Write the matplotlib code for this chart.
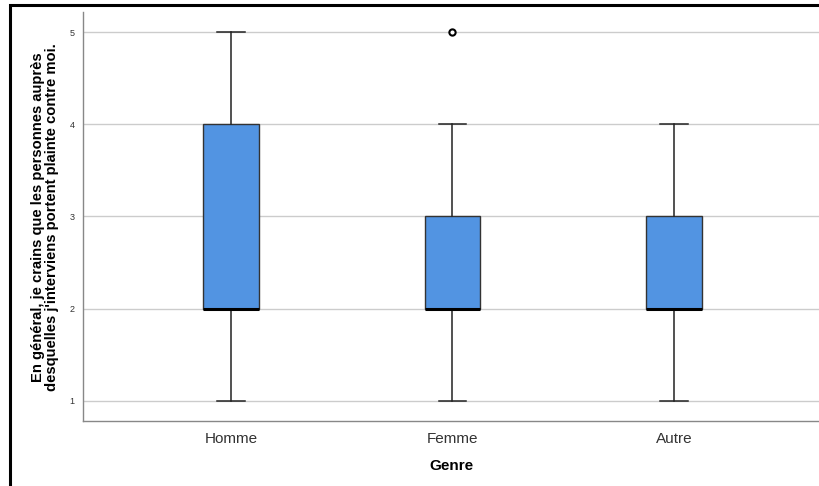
import matplotlib
matplotlib.use('Agg')
import matplotlib.pyplot as plt
from matplotlib.lines import Line2D

# values
groups = ['Homme', 'Femme', 'Autre']
whisker_low = [1, 1, 1]
q1 = [2, 2, 2]
medians = [2, 2, 2]
q3 = [4, 3, 3]
whisker_high = [5, 4, 4]
outliers = [[], [5], []]
y_ticks = [1, 2, 3, 4, 5]

BOX_COLOR = '#5294e2'

plt.rcParams['font.family'] = ['Liberation Sans', 'DejaVu Sans']

fig = plt.figure(figsize=(8.2, 4.86), dpi=100)
ax = fig.add_axes([83 / 820, 1 - 421 / 486, 1 - 83 / 820, (421 - 12) / 486])

stats = []
for i, name in enumerate(groups):
    stats.append({
        'label': name,
        'whislo': whisker_low[i],
        'q1': q1[i],
        'med': medians[i],
        'q3': q3[i],
        'whishi': whisker_high[i],
        'fliers': outliers[i],
    })

ax.bxp(stats, positions=range(len(groups)), widths=0.25, patch_artist=True,
       showfliers=True, zorder=3,
       boxprops=dict(facecolor=BOX_COLOR, edgecolor='#333333', linewidth=1.0),
       medianprops=dict(color='black', linewidth=2.2),
       whiskerprops=dict(color='#222222', linewidth=1.1),
       capprops=dict(color='#222222', linewidth=1.1),
       capwidths=0.125,
       flierprops=dict(marker='o', markersize=4.5, markerfacecolor='white',
                       markeredgecolor='black', markeredgewidth=1.5))

ax.set_xlim(-0.668, 2.66)
ax.set_ylim(0.78, 5.22)
ax.set_yticks(y_ticks)
ax.set_yticklabels([str(v) for v in y_ticks])
ax.yaxis.grid(True, color='#cccccc', linewidth=1.0, zorder=0)
ax.set_axisbelow(True)

ax.tick_params(axis='y', length=0, labelsize=6.5, labelcolor='#333333', pad=6)
ax.tick_params(axis='x', length=0, labelsize=11, labelcolor='#333333', pad=8)

for side in ['top', 'right']:
    ax.spines[side].set_visible(False)
for side in ['left', 'bottom']:
    ax.spines[side].set_color('#888888')
    ax.spines[side].set_linewidth(1.0)

ax.set_xlabel('Genre', fontsize=11, fontweight='bold', labelpad=9)
ax.set_ylabel("En général, je crains que les personnes auprès\n"
              "desquelles j'interviens portent plainte contre moi.",
              fontsize=10.6, fontweight='bold', linespacing=1.0)
ax.yaxis.set_label_coords(-0.0326, 0.499)

# the black frame SPSS leaves on the top and left of the exported chart
fx = 10.5 / 820
fy = 1 - 5.3 / 486
fig.add_artist(Line2D([fx, fx, 1], [0, fy, fy], transform=fig.transFigure,
                      color='black', linewidth=2.2, solid_joinstyle='miter'))

fig.savefig('out.png', dpi=100)
